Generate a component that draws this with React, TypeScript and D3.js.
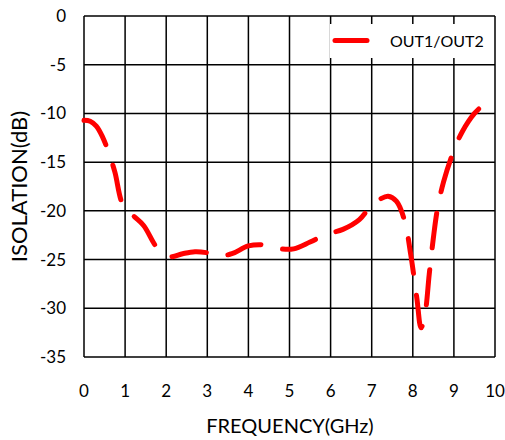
import React from "react";
import * as d3 from "d3";

const freq = [0, 0.15, 0.3, 0.45, 0.6, 0.75, 0.95, 1.2, 1.45, 1.8, 2.1, 2.4, 2.7, 3.0, 3.3, 3.6, 4.0, 4.4, 4.8, 5.1, 5.5, 5.9, 6.3, 6.7, 7.0, 7.2, 7.4, 7.6, 7.8, 7.95, 8.1, 8.2, 8.3, 8.4, 8.5, 8.6, 8.75, 9.0, 9.2, 9.5, 9.8];
const isolation = [-10.7, -10.8, -11.3, -12.4, -14.0, -16.0, -19.4, -20.5, -21.5, -23.9, -24.7, -24.4, -24.2, -24.3, -24.6, -24.4, -23.6, -23.5, -23.9, -23.9, -23.2, -22.4, -21.9, -20.9, -19.4, -18.8, -18.5, -19.0, -21.0, -24.5, -29.0, -32.0, -30.5, -26.5, -22.8, -19.8, -17.0, -13.8, -11.9, -10.0, -8.8];
const xTicks = [0, 1, 2, 3, 4, 5, 6, 7, 8, 9, 10];
const yTicks = [0, -5, -10, -15, -20, -25, -30, -35];
const seriesName = "OUT1/OUT2";
const xTitle = "FREQUENCY(GHz)";
const yTitle = "ISOLATION(dB)";

const W = 505, H = 440;
const left = 84, right = 495, top = 16, bottom = 357;
const font = "Lato, 'Open Sans', sans-serif";

export default function App() {
  const x = d3.scaleLinear().domain([0, 10]).range([left, right]);
  const y = d3.scaleLinear().domain([-35, 0]).range([bottom, top]);
  const pts: [number, number][] = freq.map((f, i) => [f, isolation[i]]);
  const line = d3.line<[number, number]>().x(d => x(d[0])).y(d => y(d[1])).curve(d3.curveCatmullRom.alpha(0.5));
  return (
    <svg width={W} height={H} style={{ position: "absolute", left: 0, top: 0, background: "#fff" }}>
      <rect x={0} y={0} width={W} height={H} fill="#fff" />
      {xTicks.map(t => (
        <line key={"gx" + t} x1={x(t)} x2={x(t)} y1={top} y2={bottom} stroke="#000" strokeWidth={1.5} />
      ))}
      {yTicks.map(t => (
        <line key={"gy" + t} x1={left} x2={right} y1={y(t)} y2={y(t)} stroke="#000" strokeWidth={1.5} />
      ))}
      <rect x={330} y={24} width={163} height={34} fill="#fff" />
      <path d={line(pts) || ""} fill="none" stroke="#ff0000" strokeWidth={5} strokeDasharray="35 22" strokeLinecap="round" />
      <line x1={335} x2={367} y1={40.5} y2={40.5} stroke="#ff0000" strokeWidth={5} strokeLinecap="round" />
      <text x={390} y={47} fontFamily={font} fontSize={16} fill="#000">{seriesName}</text>
      {yTicks.map(t => (
        <text key={"ty" + t} x={66} y={y(t) + 6} textAnchor="end" fontFamily={font} fontSize={17} fill="#000">{t}</text>
      ))}
      {xTicks.map(t => (
        <text key={"tx" + t} x={x(t)} y={397} textAnchor="middle" fontFamily={font} fontSize={17} fill="#000">{t}</text>
      ))}
      <text x={290} y={433} textAnchor="middle" fontFamily={font} fontSize={20} fill="#000">{xTitle}</text>
      <text transform={`translate(27,${(top + bottom) / 2}) rotate(-90)`} textAnchor="middle" fontFamily={font} fontSize={22} fill="#000">{yTitle}</text>
    </svg>
  );
}
